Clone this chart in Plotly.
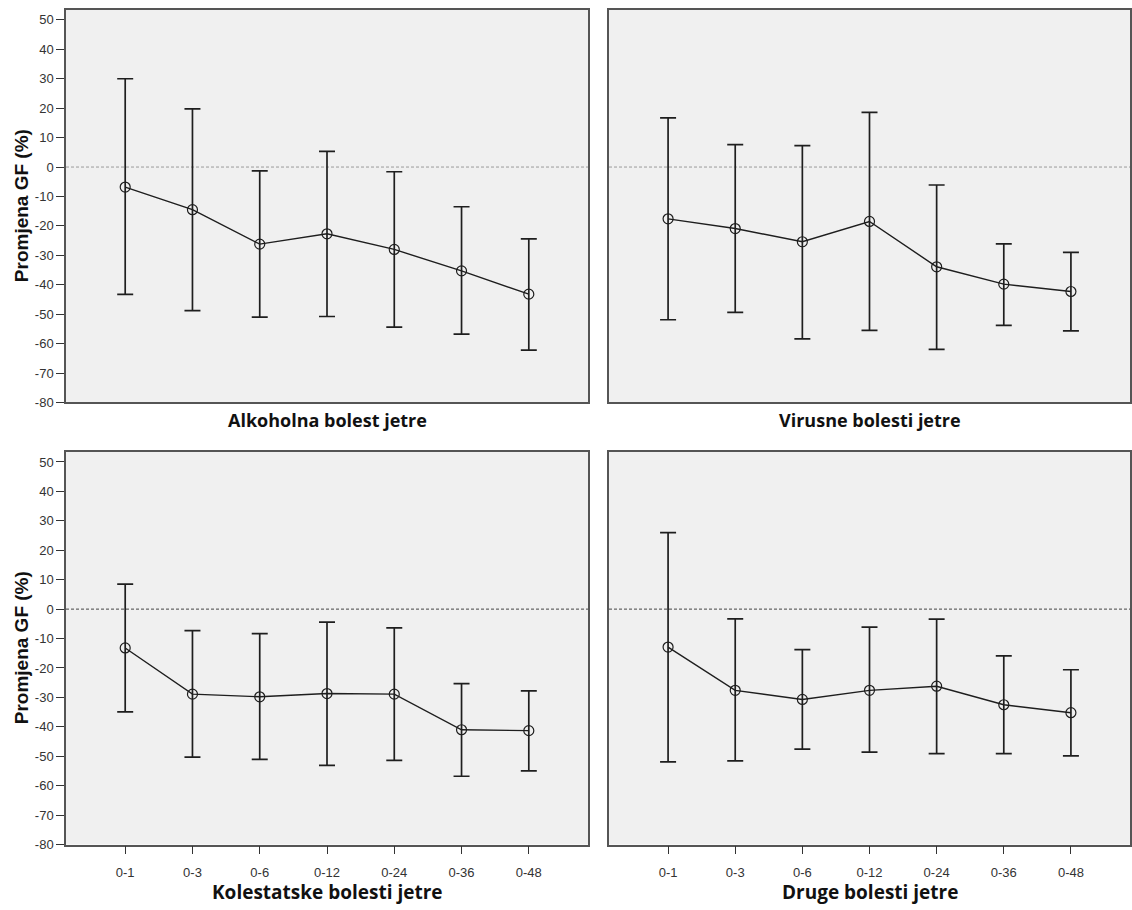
import plotly.graph_objects as go

categories = ["0-1", "0-3", "0-6", "0-12", "0-24", "0-36", "0-48"]

panel_titles = ["Alkoholna bolest jetre", "Virusne bolesti jetre",
                "Kolestatske bolesti jetre", "Druge bolesti jetre"]

alk_mean = [-6.8, -14.5, -26.2, -22.7, -28.0, -35.3, -43.2]
alk_upper = [30.0, 19.8, -1.3, 5.3, -1.6, -13.5, -24.4]
alk_lower = [-43.3, -48.8, -51.0, -50.8, -54.4, -56.8, -62.2]

vir_mean = [-17.6, -20.9, -25.4, -18.5, -33.9, -39.8, -42.3]
vir_upper = [16.7, 7.6, 7.3, 18.6, -6.1, -26.1, -29.0]
vir_lower = [-51.9, -49.4, -58.4, -55.5, -62.0, -53.8, -55.7]

kol_mean = [-13.2, -28.9, -29.8, -28.7, -28.9, -41.0, -41.3]
kol_upper = [8.5, -7.3, -8.3, -4.4, -6.4, -25.3, -27.8]
kol_lower = [-34.9, -50.3, -51.1, -53.1, -51.4, -56.8, -55.0]

dru_mean = [-12.9, -27.6, -30.7, -27.6, -26.2, -32.5, -35.2]
dru_upper = [26.0, -3.3, -13.8, -6.1, -3.4, -15.9, -20.6]
dru_lower = [-51.9, -51.6, -47.6, -48.6, -49.1, -49.1, -49.9]

y_ticks = [50, 40, 30, 20, 10, 0, -10, -20, -30, -40, -50, -60, -70, -80]
y_tick_text = ["50", "40", "30", "20", "10", "0", "-10", "-20", "-30", "-40",
               "-50", "-60", "-70", "-80"]

panels = [
    (alk_mean, alk_upper, alk_lower),
    (vir_mean, vir_upper, vir_lower),
    (kol_mean, kol_upper, kol_lower),
    (dru_mean, dru_upper, dru_lower),
]

W, H = 1132, 910
x_doms = [(66 / W, 588 / W), (609 / W, 1130 / W)]
y_doms = [(1 - 406 / H, 1 - 10 / H), (1 - 852 / H, 1 - 456 / H)]

fig = go.Figure()
ink = "#1e1e1e"
for i, (mean, up, lo) in enumerate(panels):
    r, c = divmod(i, 2)
    n = i + 1
    xa = "x" if n == 1 else f"x{n}"
    ya = "y" if n == 1 else f"y{n}"
    idx = list(range(len(categories)))
    plus = [u - m for u, m in zip(up, mean)]
    minus = [m - l for m, l in zip(mean, lo)]
    fig.add_trace(go.Scatter(
        x=idx, y=mean, xaxis=xa, yaxis=ya, mode="lines+markers",
        line=dict(color=ink, width=1.4),
        marker=dict(symbol="circle-open", size=10, color=ink, line=dict(width=1.2, color=ink)),
        error_y=dict(type="data", symmetric=False, array=plus, arrayminus=minus,
                     color=ink, thickness=1.7, width=8),
        showlegend=False, hoverinfo="skip"))
    zero_col = "#9a9a9a" if r == 0 else "#444444"
    fig.add_shape(type="line", xref=f"{xa} domain", yref=ya, x0=0, x1=1, y0=0, y1=0,
                  line=dict(color=zero_col, width=1, dash="3px,2px"), layer="below")
    xkey = "xaxis" if n == 1 else f"xaxis{n}"
    ykey = "yaxis" if n == 1 else f"yaxis{n}"
    fig.update_layout(**{
        xkey: dict(domain=x_doms[c], anchor=ya, range=[-0.88, 6.88],
                   tickmode="array", tickvals=idx,
                   ticktext=categories if r == 1 else [""] * len(idx),
                   ticks="outside" if r == 1 else "", ticklen=8, tickcolor="#333",
                   ticklabelstandoff=7,
                   showgrid=False, zeroline=False, showline=True, mirror=True,
                   linecolor="#555555", linewidth=1.5,
                   tickfont=dict(family="Liberation Sans, Arial", size=13, color="#333"),
                   fixedrange=True),
        ykey: dict(domain=y_doms[r], anchor=xa, range=[-80, 53.4],
                   tickmode="array", tickvals=y_ticks, ticktext=y_tick_text,
                   showticklabels=(c == 0),
                   ticks="outside" if c == 0 else "", ticklen=8, tickcolor="#333",
                   showgrid=False, zeroline=False, showline=True, mirror=True,
                   linecolor="#555555", linewidth=1.5,
                   tickfont=dict(family="Liberation Sans, Arial", size=13, color="#333"),
                   fixedrange=True),
    })

annotations = []
title_y = [1 - 424 / H, 1 - 900 / H]
title_size = [18, 19]
for i, t in enumerate(panel_titles):
    r, c = divmod(i, 2)
    xc = (x_doms[c][0] + x_doms[c][1]) / 2
    annotations.append(dict(text=f"<b>{t}</b>", x=xc, y=title_y[r], xref="paper", yref="paper",
                            showarrow=False, xanchor="center", yanchor="middle",
                            font=dict(family="Open Sans", size=title_size[r], color="#111")))
for r in range(2):
    yc = (y_doms[r][0] + y_doms[r][1]) / 2
    annotations.append(dict(text="<b>Promjena GF (%)</b>", x=21 / W, y=yc, xref="paper", yref="paper",
                            showarrow=False, textangle=-90, xanchor="center", yanchor="middle",
                            font=dict(family="Liberation Sans, Arial", size=19, color="#111")))

fig.update_layout(width=W, height=H, margin=dict(l=0, r=0, t=0, b=0),
                  paper_bgcolor="white", plot_bgcolor="#F0F0F0",
                  annotations=annotations)

fig.write_html("out.html", config={"displayModeBar": False},
               post_script="document.body.style.margin='0';")
